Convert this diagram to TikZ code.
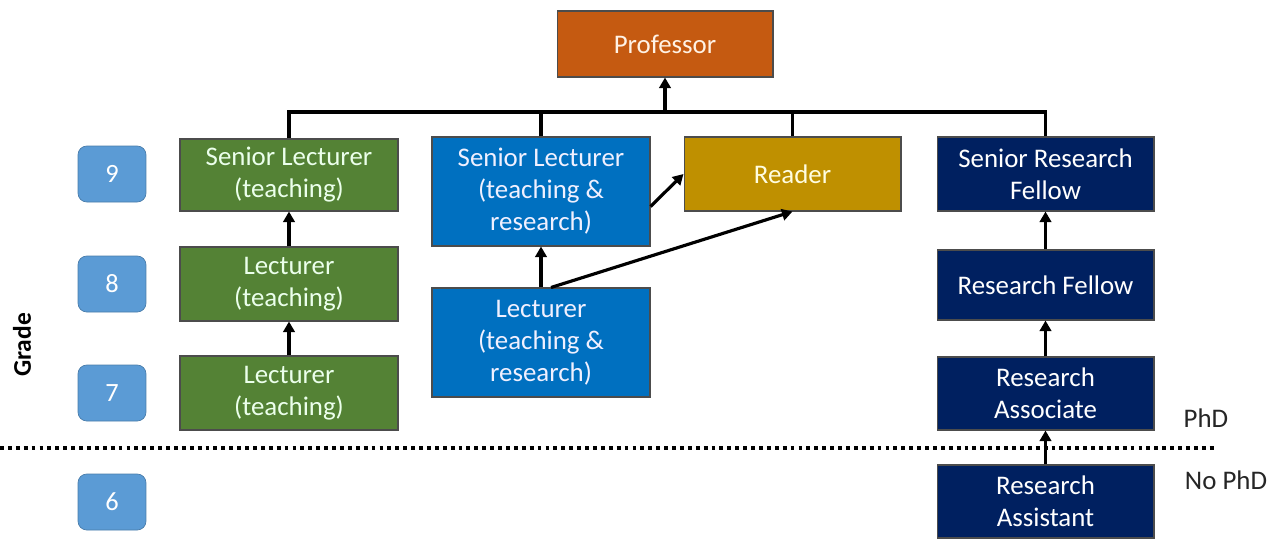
\documentclass[tikz,border=0pt]{standalone}
\usepackage{fontspec}
\setmainfont{Carlito}
\usetikzlibrary{arrows.meta,positioning}
\definecolor{profcol}{HTML}{C55A11}
\definecolor{teachcol}{HTML}{548235}
\definecolor{trcol}{HTML}{0070C0}
\definecolor{readcol}{HTML}{BF9000}
\definecolor{rescol}{HTML}{002060}
\definecolor{gradecol}{HTML}{5B9BD5}
\tikzset{
    % Role boxes
    role/.style={draw=black!70,line width=0.6pt,minimum width=4.36cm,minimum height=1.46cm,
        align=center,font=\fontsize{15.3}{18.2}\selectfont,inner sep=1pt},
    teach/.style={role,fill=teachcol,text=green!8!white},
    tr/.style={role,fill=trcol,text=blue!6!white},
    resbox/.style={role,fill=rescol,text=white},
    % Grade badges
    grade/.style={rounded corners=5pt,fill=gradecol,draw=gradecol!80!black,line width=0.4pt,
        minimum width=1.36cm,minimum height=1.12cm,text=white,font=\fontsize{15}{18}\selectfont},
    % Connectors
    link/.style={line width=1.8pt},
    up/.style={link,-{Triangle[length=6pt,width=6.5pt]}}
}
\begin{document}
\begin{tikzpicture}[x=0.02cm,y=-0.02cm]
    \useasboundingbox (0,0) rectangle (1285,538);

    % Top
    \node[role,fill=profcol,text=orange!10!white,minimum height=1.32cm,minimum width=4.32cm] (prof) at (665,44) {Professor};

    % Teaching track
    \node[teach,minimum height=1.44cm] (slT) at (289,175) {Senior Lecturer\\(teaching)};
    \node[teach,minimum height=1.48cm] (lecT8) at (289,284) {Lecturer\\(teaching)};
    \node[teach,minimum height=1.48cm] (lecT7) at (289,393) {Lecturer\\(teaching)};

    % Teaching & research track
    \node[tr,minimum height=2.18cm] (slTR) at (541,191.5) {Senior Lecturer\\(teaching \&\\research)};
    \node[tr,minimum height=2.18cm] (lecTR) at (541,342.5) {Lecturer\\(teaching \&\\research)};
    \node[role,fill=readcol,text=yellow!12!white,minimum width=4.34cm,minimum height=1.48cm] (reader) at (792.5,174) {Reader};

    % Research track
    \node[resbox,minimum width=4.34cm,minimum height=1.48cm] (srf) at (1045.5,174) {Senior Research\\Fellow};
    \node[resbox,minimum width=4.34cm,minimum height=1.4cm] (rf) at (1045.5,285) {Research Fellow};
    \node[resbox,minimum width=4.34cm,minimum height=1.46cm] (ra) at (1045.5,393.5) {Research\\Associate};
    \node[resbox,minimum width=4.34cm,minimum height=1.46cm] (rasst) at (1045.5,501.5) {Research\\Assistant};

    % Grades
    \node[grade] (g9) at (112,174) {9};
    \node[grade] (g8) at (112,284) {8};
    \node[grade] (g7) at (112,393) {7};
    \node[grade] (g6) at (112,502) {6};
    \node[rotate=90,font=\fontsize{14.5}{16}\selectfont\bfseries] (gradelbl) at (22,345) {Grade};

    % PhD divide
    \coordinate (divL) at (0,448);
    \coordinate (divR) at (1215,448);
    \draw[line width=2.2pt,dash pattern=on 2.2pt off 2.3pt] (divL) -- (divR);
    \node[text=black!85,font=\fontsize{15.3}{18}\selectfont] (phd) at (1206,418) {PhD};
    \node[text=black!85,font=\fontsize{15.3}{18}\selectfont] (nophd) at (1226,480) {No PhD};

    % Bar into professor
    \coordinate (bar) at (665,112);
    \draw[link] (slT.north) -- (slT.north |- bar) -- (srf.north |- bar) -- (srf.north);
    \draw[link] (slTR.north) -- (slTR.north |- bar);
    \draw[link] (reader.north) -- (reader.north |- bar);
    \draw[up] (bar) -- (prof.south);

    % Promotions
    \draw[up] (lecT7) -- (lecT8);
    \draw[up] (lecT8) -- (slT);
    \draw[up] (lecTR) -- (slTR);
    \draw[up] ([xshift=0.2cm]lecTR.north) -- (reader.south);
    \draw[up] ([yshift=-0.3cm]slTR.east) -- (reader.west);
    \draw[up] (rasst) -- (ra);
    \draw[up] (ra) -- (rf);
    \draw[up] (rf) -- (srf);
\end{tikzpicture}
\end{document}
